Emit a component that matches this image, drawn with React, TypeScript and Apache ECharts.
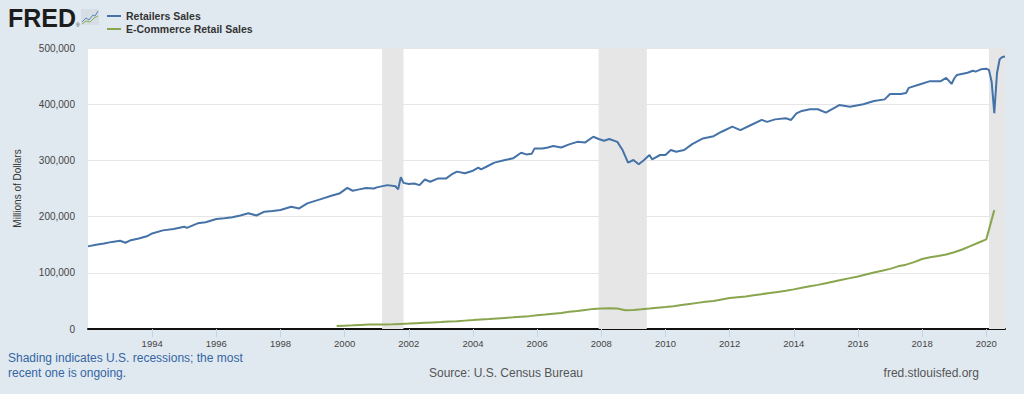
import React, { useEffect, useRef } from "react";
import * as echarts from "echarts";

// Retailers Sales (monthly, millions of dollars)
const retailDates = [
  "1992-01","1992-04","1992-07","1992-10","1993-01","1993-03","1993-05","1993-08","1993-11",
  "1994-01","1994-05","1994-09","1995-01","1995-02","1995-06","1995-09","1996-01","1996-04",
  "1996-07","1996-10","1997-01","1997-04","1997-07","1997-10","1998-01","1998-05","1998-08",
  "1998-11","1999-02","1999-05","1999-08","1999-11","2000-02","2000-04","2000-06","2000-09",
  "2000-12","2001-01","2001-05","2001-08","2001-09","2001-10","2001-11","2002-01","2002-03",
  "2002-05","2002-07","2002-09","2002-12","2003-03","2003-05","2003-07","2003-10","2004-01",
  "2004-03","2004-04","2004-06","2004-09","2005-01","2005-04","2005-07","2005-09","2005-11",
  "2005-12","2006-03","2006-05","2006-07","2006-10","2007-01","2007-04","2007-07","2007-10",
  "2007-12","2008-02","2008-04","2008-07","2008-09","2008-11","2009-01","2009-03","2009-05",
  "2009-07","2009-08","2009-11","2010-01","2010-03","2010-05","2010-08","2010-11","2011-03",
  "2011-07","2011-10","2012-02","2012-05","2012-09","2013-01","2013-03","2013-06","2013-10",
  "2013-12","2014-02","2014-04","2014-07","2014-10","2015-01","2015-06","2015-10","2016-03",
  "2016-07","2016-11","2017-01","2017-05","2017-07","2017-08","2017-12","2018-04","2018-08",
  "2018-10","2018-12","2019-01","2019-02","2019-06","2019-08","2019-09","2019-11","2020-01",
  "2020-02","2020-03","2020-04","2020-05","2020-06","2020-07","2020-08",
];
const retailValues = [
  147000,150000,152000,155000,157000,153500,158000,161000,165000,
  170000,175500,178000,182000,180000,188000,190000,195700,197000,
  198700,202000,205800,202000,208700,210000,211700,217600,214500,
  223500,228000,232500,237000,241000,251000,246000,248000,251000,
  250000,252000,256000,254000,248500,270000,260000,258000,259000,
  256000,266000,262000,268000,268000,275000,280000,277000,281600,
  287000,284000,288700,296000,300700,303700,313700,310700,312000,
  321000,321000,323000,325600,323000,328500,333000,332000,342000,
  338000,335000,338000,333000,318000,296000,300700,293000,300700,
  309600,302000,309600,309600,318500,315500,318500,329000,339000,
  343000,351000,360000,354000,363000,372000,368500,373000,375000,
  372000,383600,388000,391000,391000,385000,398500,395500,400000,
  405600,408600,418000,418000,420000,429000,435000,441000,441000,
  447000,436000,445700,452000,456000,459600,458000,462000,463000,
  461000,440000,384000,455000,480000,484000,485000,
];

// E-Commerce Retail Sales (quarterly, millions of dollars)
const ecomDates = [
  "1999-10",
  "2000-01","2000-04","2000-07","2000-10","2001-01","2001-04","2001-07","2001-10",
  "2002-01","2002-04","2002-07","2002-10","2003-01","2003-04","2003-07","2003-10",
  "2004-01","2004-04","2004-07","2004-10","2005-01","2005-04","2005-07","2005-10",
  "2006-01","2006-04","2006-07","2006-10","2007-01","2007-04","2007-07","2007-10",
  "2008-01","2008-04","2008-07","2008-10","2009-01","2009-04","2009-07","2009-10",
  "2010-01","2010-04","2010-07","2010-10","2011-01","2011-04","2011-07","2011-10",
  "2012-01","2012-04","2012-07","2012-10","2013-01","2013-04","2013-07","2013-10",
  "2014-01","2014-04","2014-07","2014-10","2015-01","2015-04","2015-07","2015-10",
  "2016-01","2016-04","2016-07","2016-10","2017-01","2017-04","2017-07","2017-10",
  "2018-01","2018-04","2018-07","2018-10","2019-01","2019-04","2019-07","2019-10",
  "2020-01","2020-04",
];
const ecomValues = [
  5400,
  6000,6500,7200,7800,8200,8200,8300,9000,
  9600,10300,11000,11700,12300,13200,14000,14900,
  15800,16800,17600,18700,19700,20700,21800,22900,
  24500,25800,27200,28600,30500,32200,34000,35800,
  36600,37000,36500,33300,34000,35000,36300,38000,
  39000,40500,42500,44500,46500,48500,50000,52500,
  55000,56500,58000,60000,62000,64000,66000,68000,
  70500,73500,76000,78500,81500,84500,87500,90500,
  93500,97000,100500,103500,107000,111500,114500,119000,
  124500,127500,130000,132500,136500,141500,147500,153500,
  159500,211500,
];

// Recession periods (shaded)
const recessionStarts = ["2001-03", "2007-12", "2020-02"];
const recessionEnds = ["2001-11", "2009-06", "2020-08"];

const xTickYears = [1994, 1996, 1998, 2000, 2002, 2004, 2006, 2008, 2010, 2012, 2014, 2016, 2018, 2020];
const yTicks = [0, 100000, 200000, 300000, 400000, 500000];

const axisStart = "1992-01";
const axisEnd = "2020-08";

const toYear = (s: string) => {
  const [y, m] = s.split("-").map(Number);
  return y + (m - 1) / 12;
};

const FONT = '"Liberation Sans", Arial, sans-serif';

export default function App() {
  const ref = useRef<HTMLDivElement>(null);

  useEffect(() => {
    if (!ref.current) return;
    const chart = echarts.init(ref.current, null, { renderer: "svg" });

    const retail = retailDates.map((d, i) => [toYear(d), retailValues[i]]);
    const ecom = ecomDates.map((d, i) => [toYear(d), ecomValues[i]]);
    const areas = recessionStarts.map((s, i) => [
      { xAxis: toYear(s) },
      { xAxis: toYear(recessionEnds[i]) },
    ]);

    chart.setOption({
      animation: false,
      backgroundColor: "#e1e9f0",
      textStyle: { fontFamily: FONT },
      grid: {
        left: 88,
        right: 19,
        top: 48,
        bottom: 65,
        show: true,
        backgroundColor: "#ffffff",
        borderWidth: 0,
      },
      xAxis: {
        type: "value",
        min: toYear(axisStart),
        max: toYear(axisEnd),
        interval: 2,
        splitLine: { show: false },
        axisLine: { show: true, onZero: false, lineStyle: { color: "#111", width: 2 } },
        axisTick: {
          show: true,
          length: 8,
          customValues: xTickYears,
          lineStyle: { color: "#c6d3e0", width: 1 },
        },
        axisLabel: {
          customValues: xTickYears,
          color: "#444",
          fontSize: 9.5,
          margin: 9,
          formatter: (v: number) => String(Math.round(v)),
        },
      },
      yAxis: {
        type: "value",
        min: yTicks[0],
        max: yTicks[yTicks.length - 1],
        interval: 100000,
        name: "Millions of Dollars",
        nameLocation: "middle",
        nameGap: 66,
        nameTextStyle: { color: "#333", fontSize: 10 },
        axisLine: { show: false },
        axisTick: { show: false },
        splitLine: { lineStyle: { color: "#e6e6e6", width: 1 } },
        axisLabel: {
          color: "#444",
          fontSize: 10,
          margin: 13,
          formatter: (v: number) => v.toLocaleString("en-US"),
        },
      },
      series: [
        {
          name: "Retailers Sales",
          type: "line",
          data: retail,
          showSymbol: false,
          lineStyle: { color: "#4572a7", width: 2 },
          itemStyle: { color: "#4572a7" },
          z: 3,
          markArea: {
            silent: true,
            itemStyle: { color: "#e6e6e6" },
            data: areas,
          },
        },
        {
          name: "E-Commerce Retail Sales",
          type: "line",
          data: ecom,
          showSymbol: false,
          lineStyle: { color: "#89a54e", width: 2 },
          itemStyle: { color: "#89a54e" },
          z: 3,
        },
      ],
      graphic: [
        {
          type: "text",
          x: 8,
          y: 18,
          style: {
            text: "FRED",
            font: `bold 25px ${FONT}`,
            fill: "#1c1c1c",
            verticalAlign: "middle",
          },
        },
        {
          type: "text",
          x: 76,
          y: 25,
          style: { text: "®", font: `5px ${FONT}`, fill: "#333", verticalAlign: "middle" },
        },
        {
          type: "group",
          x: 81,
          y: 9,
          children: [
            { type: "rect", shape: { x: 0, y: 0, width: 18, height: 16 }, style: { fill: "#d5dde5" } },
            {
              type: "polyline",
              shape: { points: [[1, 13], [5, 9], [8, 11], [12, 6], [14, 7], [17, 2]] },
              style: { stroke: "#5b82b5", lineWidth: 1, fill: "none" },
            },
            {
              type: "polyline",
              shape: { points: [[1, 15], [5, 12], [9, 13], [13, 9], [17, 7]] },
              style: { stroke: "#8fb05a", lineWidth: 1, fill: "none" },
            },
          ],
        },
        {
          type: "line",
          shape: { x1: 107, y1: 16, x2: 121, y2: 16 },
          style: { stroke: "#4572a7", lineWidth: 2 },
        },
        {
          type: "text",
          x: 126,
          y: 16,
          style: { text: "Retailers Sales", font: `bold 10.5px ${FONT}`, fill: "#333", verticalAlign: "middle" },
        },
        {
          type: "line",
          shape: { x1: 107, y1: 29, x2: 121, y2: 29 },
          style: { stroke: "#89a54e", lineWidth: 2 },
        },
        {
          type: "text",
          x: 126,
          y: 29,
          style: { text: "E-Commerce Retail Sales", font: `bold 10.5px ${FONT}`, fill: "#333", verticalAlign: "middle" },
        },
        {
          type: "text",
          x: 8,
          y: 358,
          style: {
            text: "Shading indicates U.S. recessions; the most",
            font: `12px ${FONT}`,
            fill: "#3465a4",
            verticalAlign: "middle",
          },
        },
        {
          type: "text",
          x: 8,
          y: 373,
          style: { text: "recent one is ongoing.", font: `12px ${FONT}`, fill: "#3465a4", verticalAlign: "middle" },
        },
        {
          type: "text",
          x: 506,
          y: 373,
          style: {
            text: "Source: U.S. Census Bureau",
            font: `12px ${FONT}`,
            fill: "#555",
            align: "center",
            verticalAlign: "middle",
          },
        },
        {
          type: "text",
          x: 979,
          y: 373,
          style: {
            text: "fred.stlouisfed.org",
            font: `12px ${FONT}`,
            fill: "#555",
            align: "right",
            verticalAlign: "middle",
          },
        },
      ],
    });

    return () => chart.dispose();
  }, []);

  return (
    <div
      ref={ref}
      style={{ position: "fixed", left: 0, top: 0, width: 1024, height: 394 }}
    />
  );
}
